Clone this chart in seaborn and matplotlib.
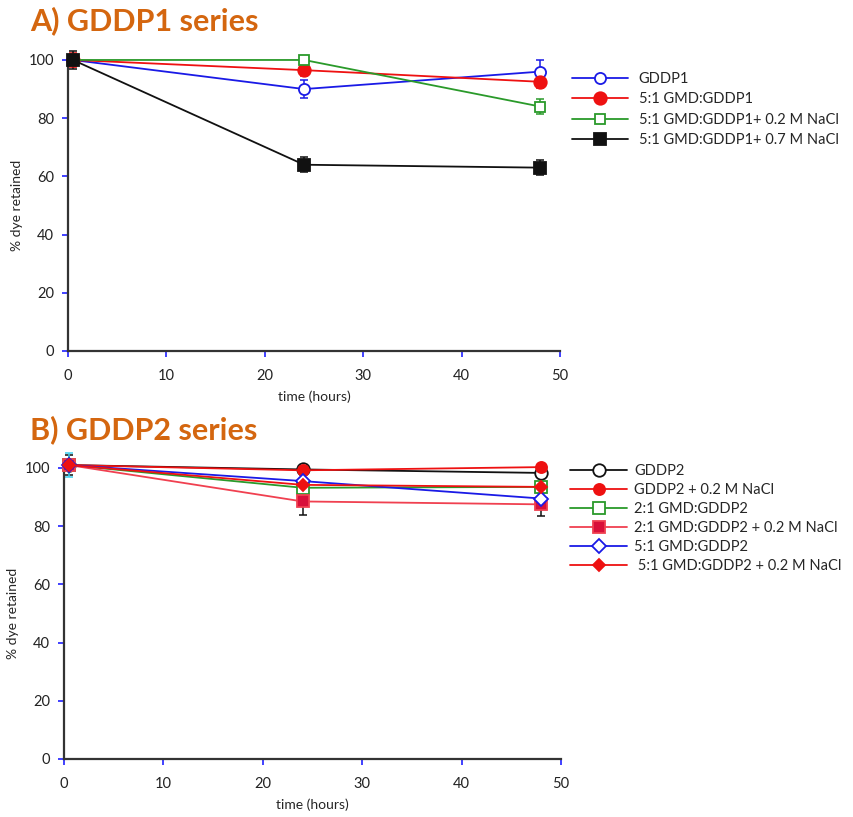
import numpy as np
import pandas as pd
import seaborn as sns
import matplotlib.pyplot as plt

sns.set_style("white")
plt.rcParams['font.family'] = ['Lato', 'DejaVu Sans']

# data
time_a = [0.5, 24, 48]
gddp1 = [100, 90, 96]
gddp1_err = [1.5, 3, 4]
gmd_gddp1 = [100, 96.5, 92.5]
gmd_gddp1_err = [2.5, 2, 2]
gmd_gddp1_02 = [100, 100, 84]
gmd_gddp1_02_err = [1, 0.5, 2.5]
gmd_gddp1_07 = [100, 64, 63]
gmd_gddp1_07_err = [3, 2.5, 2.5]

time_b = [0.5, 24, 48]
gddp2 = [101, 99.5, 98.3]
gddp2_err = [3.5, 0.5, 1]
gddp2_02 = [101, 99.2, 100.3]
gddp2_02_err = [1, 0.5, 0.5]
gmd2_gddp2 = [101, 93.2, 93.5]
gmd2_gddp2_err = [1, 1.5, 1.5]
gmd2_gddp2_02 = [101, 88.5, 87.5]
gmd2_gddp2_02_err = [1, 4.5, 4]
gmd5_gddp2 = [101, 95.5, 89.5]
gmd5_gddp2_err = [4, 2, 2]
gmd5_gddp2_02 = [101, 94.2, 93.5]
gmd5_gddp2_02_err = [1, 1, 1]

labels_a = ["GDDP1", "5:1 GMD:GDDP1", "5:1 GMD:GDDP1+ 0.2 M NaCl", "5:1 GMD:GDDP1+ 0.7 M NaCl"]
labels_b = ["GDDP2", "GDDP2 + 0.2 M NaCl", "2:1 GMD:GDDP2", "2:1 GMD:GDDP2 + 0.2 M NaCl",
            "5:1 GMD:GDDP2", " 5:1 GMD:GDDP2 + 0.2 M NaCl"]

blue = '#1a1ae6'
red = '#ee1111'
green = '#2a9a2a'
black = '#111111'

# (values, errors, line colour, marker, face colour, size, error colour)
series_a = [
    (gddp1, gddp1_err, blue, 'o', 'white', 8, blue),
    (gmd_gddp1, gmd_gddp1_err, red, 'o', red, 9, red),
    (gmd_gddp1_02, gmd_gddp1_02_err, green, 's', 'white', 7, green),
    (gmd_gddp1_07, gmd_gddp1_07_err, black, 's', black, 8, black),
]
series_b = [
    (gddp2, gddp2_err, black, 'o', 'white', 9, black),
    (gddp2_02, gddp2_02_err, red, 'o', red, 8, red),
    (gmd2_gddp2, gmd2_gddp2_err, green, 's', 'white', 9, '#40c8d8'),
    (gmd2_gddp2_02, gmd2_gddp2_02_err, '#f04050', 's', '#d8103a', 8, black),
    (gmd5_gddp2, gmd5_gddp2_err, blue, 'D', 'white', 7, '#40d0f0'),
    (gmd5_gddp2_02, gmd5_gddp2_02_err, red, 'D', red, 6, red),
]

fig = plt.figure(figsize=(8.54, 8.17), dpi=100)
ax_a = fig.add_axes([0.0796, 0.5704, 0.576, 0.3562])
ax_b = fig.add_axes([0.0749, 0.0710, 0.582, 0.3562])


def draw(ax, times, series, labels):
    for (vals, err, c, m, fc, ms, ec), lab in zip(series, labels):
        ax.errorbar(times, vals, yerr=err, fmt='none', ecolor=ec, elinewidth=1.1,
                    capsize=3, capthick=1.1, zorder=2, clip_on=False)
        sns.lineplot(x=times, y=vals, ax=ax, color=c, marker=m, markersize=ms,
                     markerfacecolor=fc, markeredgecolor=c, markeredgewidth=1.3,
                     linewidth=1.3, label=lab, errorbar=None, zorder=3, clip_on=False)
    ax.set_xlim(0, 50)
    ax.set_ylim(0, 100)
    ax.set_xticks(range(0, 51, 10))
    ax.set_yticks(range(0, 101, 20))
    sns.despine(ax=ax)
    for s in ['left', 'bottom']:
        ax.spines[s].set_color('#333333')
        ax.spines[s].set_linewidth(1.6)
    ax.tick_params(axis='both', direction='out', length=4, width=1.2, color='#2020ff',
                   labelsize=10.5, labelcolor='#222222', pad=6, bottom=True, left=True)
    ax.tick_params(axis='x', pad=9)
    ax.set_xlabel("time (hours)", fontsize=10, labelpad=5)
    ax.set_ylabel("% dye retained", fontsize=10, labelpad=4)


draw(ax_a, time_a, series_a, labels_a)
draw(ax_b, time_b, series_b, labels_b)

ax_a.legend(loc='upper left', bbox_to_anchor=(1.0, 1.0), frameon=False, fontsize=10.5,
            handlelength=3.9, handletextpad=0.7, labelspacing=0.45, borderaxespad=0.4)
ax_b.legend(loc='upper left', bbox_to_anchor=(0.995, 1.055), frameon=False, fontsize=10.5,
            handlelength=3.9, handletextpad=0.5, labelspacing=0.35, borderaxespad=0.4)

title_color = '#d4660f'
fig.text(30 / 854, 1 - 21 / 817, "A) GDDP1 series", fontsize=22, fontweight='bold',
         color=title_color, va='center')
fig.text(30 / 854, 1 - 430 / 817, "B) GDDP2 series", fontsize=22, fontweight='bold',
         color=title_color, va='center')

fig.savefig("out.png", dpi=100)
